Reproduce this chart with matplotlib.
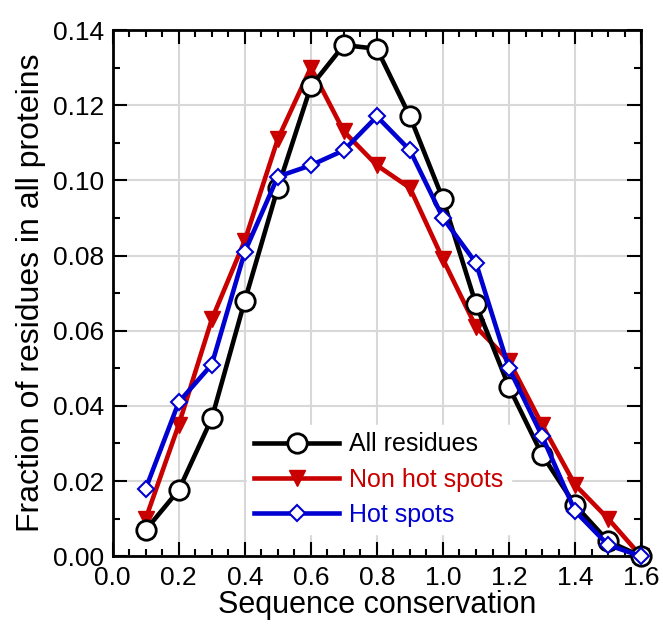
import matplotlib
matplotlib.use("Agg")
import matplotlib.pyplot as plt
from matplotlib.ticker import MultipleLocator

plt.rcParams['font.family'] = ['Liberation Sans', 'DejaVu Sans']

# data
conservation = [0.1, 0.2, 0.3, 0.4, 0.5, 0.6, 0.7, 0.8, 0.9, 1.0, 1.1, 1.2, 1.3, 1.4, 1.5, 1.6]
all_residues = [0.007, 0.0176, 0.0367, 0.068, 0.098, 0.125, 0.136, 0.135, 0.117, 0.095,
                0.067, 0.045, 0.027, 0.0136, 0.004, 0.0]
non_hot_spots = [0.010, 0.035, 0.063, 0.084, 0.111, 0.130, 0.113, 0.104, 0.098, 0.079,
                 0.061, 0.052, 0.035, 0.019, 0.010, 0.0]
hot_spots = [0.018, 0.041, 0.051, 0.081, 0.101, 0.104, 0.108, 0.117, 0.108, 0.090,
             0.078, 0.050, 0.032, 0.012, 0.003, 0.0]

red = '#C80000'
blue = '#0000D0'

fig = plt.figure(figsize=(6.63, 6.25), dpi=100)
ax = fig.add_axes([0.170, 0.110, 0.797, 0.842])

l_red, = ax.plot(conservation, non_hot_spots, color=red, lw=3.3, marker='v', ms=12,
                 mfc=red, mec=red, label='Non hot spots', clip_on=False, zorder=3)
l_black, = ax.plot(conservation, all_residues, color='black', lw=3.3, marker='o', ms=14,
                   mfc='white', mec='black', mew=2, label='All residues', clip_on=False, zorder=4)
l_blue, = ax.plot(conservation, hot_spots, color=blue, lw=3.3, marker='D', ms=8,
                  mfc='white', mec=blue, mew=1.5, label='Hot spots', clip_on=False, zorder=5)

ax.set_xlim(0, 1.6)
ax.set_ylim(0, 0.14)
ax.xaxis.set_major_locator(MultipleLocator(0.2))
ax.xaxis.set_minor_locator(MultipleLocator(0.05))
ax.yaxis.set_major_locator(MultipleLocator(0.02))
ax.yaxis.set_minor_locator(MultipleLocator(0.01))
ax.xaxis.set_major_formatter(lambda v, p: f"{v:.1f}")
ax.yaxis.set_major_formatter(lambda v, p: f"{v:.2f}")
ax.tick_params(which='both', direction='in', top=True, right=True, width=1.5)
ax.tick_params(which='major', length=10, labelsize=19)
ax.tick_params(axis='y', which='major', pad=6)
ax.tick_params(axis='x', which='major', pad=7)
ax.tick_params(which='minor', length=5)
ax.grid(True, which='major', color='#d8d8d8', lw=1.5)
ax.set_axisbelow(True)
for s in ax.spines.values():
    s.set_linewidth(2)

ax.set_xlabel('Sequence conservation', fontsize=22, labelpad=0)
ax.set_ylabel('Fraction of residues in all proteins', fontsize=23, labelpad=5)

leg = ax.legend(handles=[l_black, l_red, l_blue], loc='lower left',
                bbox_to_anchor=(0.23, 0.018), frameon=True, fancybox=False,
                edgecolor='white', framealpha=1, fontsize=18, handlelength=3.4,
                borderpad=0.3, labelspacing=0.45, handletextpad=0.4)
for txt, c in zip(leg.get_texts(), ['black', red, blue]):
    txt.set_color(c)

fig.savefig('out.png', dpi=100)
